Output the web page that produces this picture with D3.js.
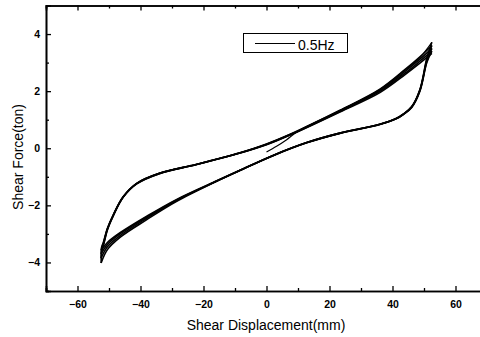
<!DOCTYPE html>
<html>
<head>
<meta charset="utf-8">
<script src="https://cdn.jsdelivr.net/npm/d3@7"></script>
<style>
  body { margin: 0; background: #fff; }
  text { font-family: Arial, "Liberation Sans", sans-serif; fill: #000; }
</style>
</head>
<body>
<div id="chart"></div>
<script>
// initial loading from the origin
var initX = [0, 3.2, 6.4, 10, 23.3, 36, 44, 48.7, 52.5];
var initF = [-0.13, 0.07, 0.3, 0.6, 1.32, 2.06, 2.74, 3.18, 3.71];

// unloading branches (right tip -> left tip)
var unloadX = [52.5, 50.9, 48.7, 46.1, 43.5, 41.3, 36, 23.3, 12.8, 2.1, -8.4, -15.8, -28.5, -38, -46.5, -50.5, -52.5];
var unload1 = [3.71, 3.15, 2.06, 1.46, 1.2, 1.05, 0.84, 0.53, 0.2, -0.25, -0.78, -1.16, -1.86, -2.5, -3.12, -3.55, -4.02];
var unload2 = [3.6, 3.1, 2.04, 1.45, 1.2, 1.05, 0.84, 0.53, 0.2, -0.25, -0.77, -1.15, -1.83, -2.45, -3.06, -3.45, -3.85];
var unload3 = [3.5, 3.05, 2.02, 1.44, 1.19, 1.04, 0.84, 0.53, 0.2, -0.25, -0.77, -1.15, -1.81, -2.41, -3.0, -3.37, -3.7];
var unload4 = [3.4, 3.0, 2.0, 1.43, 1.19, 1.04, 0.83, 0.52, 0.19, -0.26, -0.77, -1.14, -1.79, -2.38, -2.96, -3.3, -3.58];

// loading branches (left tip -> right tip)
var loadX = [-52.5, -52.3, -51.8, -50.5, -48.6, -45.5, -41.2, -33.8, -22.2, -8.4, 0, 7.5, 23.3, 36, 44, 48.7, 52.5];
var load1 = [-4.02, -3.6, -3.42, -2.86, -2.36, -1.72, -1.25, -0.88, -0.57, -0.16, 0.15, 0.49, 1.33, 2.07, 2.76, 3.2, 3.6];
var load2 = [-3.85, -3.55, -3.38, -2.84, -2.34, -1.71, -1.24, -0.88, -0.57, -0.16, 0.14, 0.48, 1.31, 2.03, 2.69, 3.12, 3.5];
var load3 = [-3.7, -3.5, -3.34, -2.82, -2.33, -1.7, -1.23, -0.87, -0.57, -0.17, 0.13, 0.47, 1.29, 1.99, 2.63, 3.05, 3.4];
var load4 = [-3.58, -3.45, -3.3, -2.8, -2.32, -1.7, -1.23, -0.87, -0.56, -0.17, 0.12, 0.46, 1.27, 1.95, 2.58, 2.98, 3.32];

var xTicks = [-60, -40, -20, 0, 20, 40, 60];
var xMinor = [-70, -50, -30, -10, 10, 30, 50, 70];
var yTicks = [-4, -2, 0, 2, 4];
var yMinor = [-5, -3, -1, 1, 3, 5];
var legendLabel = "0.5Hz";

var width = 480, height = 337;

var svg = d3.select("#chart")
  .append("svg")
    .attr("width", width)
    .attr("height", height);

var x = d3.scaleLinear()
    .domain([-70, 70])
    .range([46, 487]);

var y = d3.scaleLinear()
    .domain([-5, 5])
    .range([291, 5.5]);

// axes, ticks pointing inward
svg.append("g")
    .attr("transform", "translate(0," + y(-5) + ")")
    .call(d3.axisBottom(x).tickValues(xTicks).tickSize(-5).tickPadding(9.5).tickFormat(d3.format("d")));
svg.append("g")
    .attr("transform", "translate(0," + y(-5) + ")")
    .call(d3.axisBottom(x).tickValues(xMinor).tickSize(-3).tickFormat(""));
svg.append("g")
    .attr("transform", "translate(0," + y(5) + ")")
    .call(d3.axisTop(x).tickValues(xTicks).tickSize(-5).tickFormat(""));
svg.append("g")
    .attr("transform", "translate(0," + y(5) + ")")
    .call(d3.axisTop(x).tickValues(xMinor).tickSize(-3).tickFormat(""));
svg.append("g")
    .attr("transform", "translate(" + x(-70) + ",0)")
    .call(d3.axisLeft(y).tickValues(yTicks).tickSize(-5).tickPadding(6).tickFormat(d3.format("d")));
svg.append("g")
    .attr("transform", "translate(" + x(-70) + ",0)")
    .call(d3.axisLeft(y).tickValues(yMinor).tickSize(-3).tickFormat(""));

svg.selectAll(".domain").attr("stroke", "#000").attr("stroke-width", 1.6);
svg.selectAll(".tick line").attr("stroke", "#000").attr("stroke-width", 1.3);
svg.selectAll(".tick text")
    .style("font-size", "10.5px")
    .style("font-weight", "bold")
    .attr("fill", "#000");

// axis titles
svg.append("text")
    .attr("x", 266)
    .attr("y", 330)
    .attr("text-anchor", "middle")
    .style("font-size", "14px")
    .text("Shear Displacement(mm)");

svg.append("text")
    .attr("transform", "translate(23,157) rotate(-90)")
    .attr("text-anchor", "middle")
    .style("font-size", "14px")
    .text("Shear Force(ton)");

// hysteresis loops
var line = d3.line()
    .x(function(d) { return x(d[0]); })
    .y(function(d) { return y(d[1]); })
    .curve(d3.curveCatmullRom.alpha(0.5));

function pairs(xs, fs) {
    return xs.map(function(v, i) { return [v, fs[i]]; });
}

var branches = [
    pairs(initX, initF),
    pairs(unloadX, unload1), pairs(loadX, load1),
    pairs(unloadX, unload2), pairs(loadX, load2),
    pairs(unloadX, unload3), pairs(loadX, load3),
    pairs(unloadX, unload4), pairs(loadX, load4)
];

svg.append("g")
  .selectAll("path")
  .data(branches)
  .enter()
  .append("path")
    .attr("d", line)
    .attr("fill", "none")
    .attr("stroke", "#000")
    .attr("stroke-width", function(d, i) { return i === 0 ? 1.2 : 1.6; })
    .attr("stroke-linejoin", "round");

// legend
var legend = svg.append("g");
legend.append("rect")
    .attr("x", 243.5)
    .attr("y", 33.5)
    .attr("width", 104)
    .attr("height", 19)
    .attr("fill", "none")
    .attr("stroke", "#000")
    .attr("stroke-width", 1);
legend.append("line")
    .attr("x1", 255).attr("x2", 295)
    .attr("y1", 43.5).attr("y2", 43.5)
    .attr("stroke", "#000")
    .attr("stroke-width", 1);
legend.append("text")
    .attr("x", 298)
    .attr("y", 49.5)
    .style("font-size", "14px")
    .text(legendLabel);
</script>
</body>
</html>
